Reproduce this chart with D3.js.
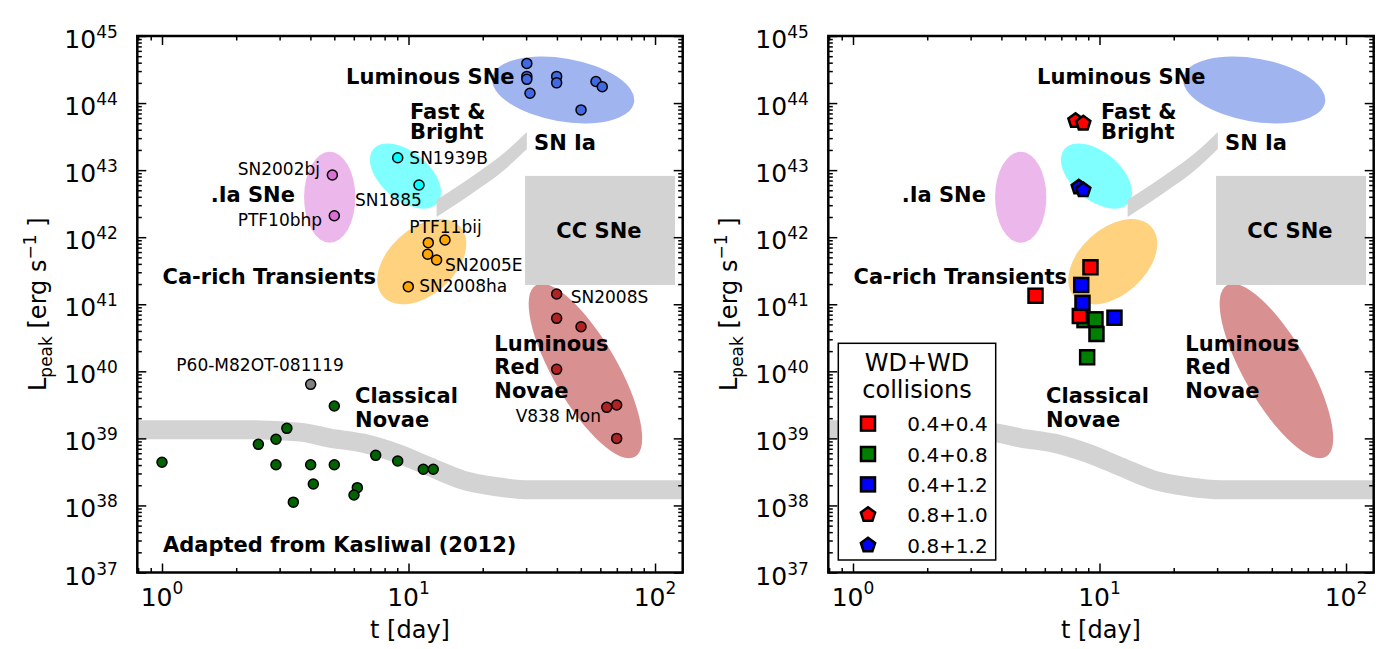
<!DOCTYPE html>
<meta charset="utf-8">
<script src="https://cdn.jsdelivr.net/npm/d3@7"></script>
<style>
  body { margin: 0; background: #fff; }
  text { font-family: "DejaVu Sans", sans-serif; }
</style>
<div id="chart"></div>
<script>
// ---- observed transients (left panel), t [day] and L_peak [erg/s]
var lumSNeT = [30.2, 30.2, 30.2, 31.1, 39.9, 39.9, 57.6, 61.1, 50.1];
var lumSNeL = [3.9e44, 2.5e44, 2.26e44, 1.4e44, 2.5e44, 2.0e44, 2.1e44, 1.75e44, 7.9e43];
var fastT = [9.04, 11.03];
var fastL = [1.53e43, 6.0e42];
var dotIaT = [4.91, 5.0];
var dotIaL = [8.45e42, 2.09e42];
var caT = [12.03, 14.06, 11.96, 13.0, 9.98];
var caL = [8.28e41, 9.08e41, 5.56e41, 4.57e41, 1.83e41];
var lrnT = [39.9, 39.9, 50.1, 39.9, 63.7, 69.9, 69.9];
var lrnL = [1.42e41, 6.17e40, 4.62e40, 1.07e40, 2.9e39, 3.14e39, 1.0e39];
var novaT = [1.0, 2.46, 2.90, 3.21, 2.90, 3.41, 4.01, 4.11, 5.0, 5.0, 6.2, 6.01, 7.36, 9.04, 11.48, 12.6];
var novaL = [4.4e38, 8.15e38, 9.7e38, 1.41e39, 4.05e38, 1.12e38, 4.05e38, 2.09e38, 3.04e39, 4.05e38, 1.84e38, 1.43e38, 5.58e38, 4.6e38, 3.46e38, 3.46e38];
var p60T = [4.01];
var p60L = [6.4e39];

// ---- class regions (ellipses): centre, semi axes in decades, tilt
var regionNames = ["Luminous SNe", "Fast & Bright", ".Ia SNe", "Ca-rich", "LRN"];
var regionT = [42.4, 9.72, 4.79, 11.32, 52.2];
var regionL = [1.57e44, 8.17e42, 3.94e42, 4.31e41, 1.01e40];
var regionDexT = [0.292, 0.170, 0.104, 0.211, 0.402];
var regionDexL = [0.470, 0.358, 0.678, 0.492, 0.477];
var regionTilt = [10, 40, 0, -42, 60];

// gray bands
var novaLimitT = [0.7, 2.07, 3.63, 4.8, 6.54, 8.96, 12.2, 16.6, 22.8, 31.1, 150];
var novaLimitL = [1.35e39, 1.35e39, 1.24e39, 1.01e39, 8.5e38, 6.0e38, 3.77e38, 2.39e38, 1.9e38, 1.71e38, 1.71e38];
var snIaT = [13.0, 16.0, 19.8, 24.4, 30.2];
var snIaL = [2.69e42, 4.4e42, 7.55e42, 1.34e43, 2.77e43];
var ccT = [29.7, 120.5];
var ccL = [1.94e41, 8.2e42];

// ---- WD+WD collision models (right panel)
var sq44T = [9.19, 5.50, 8.32];
var sq44L = [3.56e41, 1.34e41, 6.68e40];
var sq48T = [8.69, 9.63, 9.72, 8.91];
var sq48L = [5.8e40, 5.96e40, 3.6e40, 1.62e40];
var sq412T = [8.43, 8.53, 11.5];
var sq412L = [1.94e41, 1.05e41, 6.3e40];
var pent810T = [7.99, 8.59];
var pent810L = [5.46e43, 4.99e43];
var pent812T = [8.24, 8.59];
var pent812L = [5.55e42, 5.06e42];
var modelNames = ["0.4+0.4", "0.4+0.8", "0.4+1.2", "0.8+1.0", "0.8+1.2"];

// ---- labels
var classText = [["Luminous SNe"], ["Fast &", "Bright"], ["SN Ia"], ["CC SNe"], [".Ia SNe"], ["Ca-rich Transients"], ["Classical", "Novae"], ["Luminous", "Red", "Novae"]];
var classT = [5.58, 10.14, 32.3, 59.2, 3.46, 7.38, 6.07, 22.29];
var classL = [1.92e44, 5.78e43, 2.0e43, 9.62e41, 3.38e42, 2.0e41, 3.33e39, 2.03e40];
var classAnchor = ["start", "start", "start", "middle", "end", "end", "start", "start"];
var classLead = [0, 19.5, 0, 0, 0, 0, 23.8, 23.8];
var nameText = ["SN2002bj", "PTF10bhp", "SN1885", "SN1939B", "PTF11bij", "SN2005E", "SN2008ha", "SN2008S", "V838 Mon", "P60-M82OT-081119"];
var nameT = [4.375, 4.46, 6.07, 10.08, 10.08, 14.06, 11.06, 45.5, 27.2, 5.47];
var nameL = [8.45e42, 1.47e42, 2.94e42, 1.23e43, 1.17e42, 3.16e41, 1.5e41, 1.06e41, 1.77e39, 1.02e40];
var nameAnchor = ["end", "end", "start", "start", "start", "start", "start", "start", "start", "end"];

var xMajor = [1, 10, 100];
var xMinor = [0.8, 0.9, 2, 3, 4, 5, 6, 7, 8, 9, 20, 30, 40, 50, 60, 70, 80, 90];
var yMajor = [37, 38, 39, 40, 41, 42, 43, 44, 45];

// ---- layout
var panelW = 545.4, panelH = 536.5;
var panelLeft = [137.3, 828.3], panelTop = 36;

var svg = d3.select("#chart").append("svg")
    .attr("width", 1400)
    .attr("height", 649);

var x = d3.scaleLog().domain([0.794, 129.5]).range([0, panelW]);
var y = d3.scaleLog().domain([1e37, 1e45]).range([panelH, 0]);
var dexX = panelW / Math.log10(129.5 / 0.794);
var dexY = panelH / 8;

var regionColor = ["#4169e1", "#00ffff", "#da70d6", "#ffa500", "#b22222"];

// pentagon symbol, size = circumradius
var pentagon = {
    draw: function(ctx, r) {
        for (var k = 0; k < 5; k++) {
            var a = -Math.PI / 2 + k * 2 * Math.PI / 5;
            if (k == 0) ctx.moveTo(r * Math.cos(a), r * Math.sin(a));
            else ctx.lineTo(r * Math.cos(a), r * Math.sin(a));
        }
        ctx.closePath();
    }
};

function zip(ts, ls) {
    return ts.map(function(t, i) { return { t: t, L: ls[i] }; });
}

function background(g) {
    // ellipses
    g.selectAll("ellipse.region")
        .data(regionNames).enter().append("ellipse")
        .attr("class", "region")
        .attr("transform", (d, i) => "translate(" + x(regionT[i]) + "," + y(regionL[i]) + ") rotate(" + regionTilt[i] + ")")
        .attr("rx", (d, i) => regionDexT[i] * dexX)
        .attr("ry", (d, i) => regionDexL[i] * dexY)
        .attr("fill", (d, i) => regionColor[i])
        .attr("fill-opacity", 0.5);

    // CC SNe box
    g.append("rect")
        .attr("x", x(ccT[0]))
        .attr("y", y(ccL[1]))
        .attr("width", x(ccT[1]) - x(ccT[0]))
        .attr("height", y(ccL[0]) - y(ccL[1]))
        .attr("fill", "#d3d3d3");

    // SN Ia band
    var area = d3.area()
        .x(d => x(d.t))
        .y0(d => y(d.L / 1.34))
        .y1(d => y(d.L * 1.34))
        .curve(d3.curveMonotoneX);
    g.append("path")
        .datum(zip(snIaT, snIaL))
        .attr("d", area)
        .attr("fill", "#d3d3d3");

    // nova detection band
    var line = d3.line().x(d => x(d.t)).y(d => y(d.L)).curve(d3.curveMonotoneX);
    g.append("path")
        .datum(zip(novaLimitT, novaLimitL))
        .attr("d", line)
        .attr("fill", "none")
        .attr("stroke", "#d3d3d3")
        .attr("stroke-width", 19);
}

function classLabels(g) {
    var lab = g.selectAll("text.cls")
        .data(classText).enter().append("text")
        .attr("class", "cls")
        .attr("font-size", 21)
        .attr("font-weight", "bold")
        .attr("text-anchor", (d, i) => classAnchor[i])
        .attr("transform", (d, i) => "translate(" + x(classT[i]) + "," + y(classL[i]) + ")");
    lab.each(function(lines, i) {
        d3.select(this).selectAll("tspan")
            .data(lines).enter().append("tspan")
            .attr("x", 0)
            .attr("y", (d, j) => j * classLead[i])
            .text(d => d);
    });
}

function dots(g, ts, ls, color) {
    g.selectAll(null)
        .data(zip(ts, ls)).enter().append("circle")
        .attr("cx", d => x(d.t))
        .attr("cy", d => y(d.L))
        .attr("r", 5)
        .attr("fill", color)
        .attr("stroke", "#000")
        .attr("stroke-width", 1.5);
}

function squares(g, ts, ls, color) {
    g.selectAll(null)
        .data(zip(ts, ls)).enter().append("rect")
        .attr("x", d => x(d.t) - 7)
        .attr("y", d => y(d.L) - 7)
        .attr("width", 14)
        .attr("height", 14)
        .attr("fill", color)
        .attr("stroke", "#000")
        .attr("stroke-width", 2.5);
}

function pentagons(g, ts, ls, color) {
    g.selectAll(null)
        .data(zip(ts, ls)).enter().append("path")
        .attr("transform", d => "translate(" + x(d.t) + "," + y(d.L) + ")")
        .attr("d", d3.symbol().type(pentagon).size(7.5))
        .attr("fill", color)
        .attr("stroke", "#000")
        .attr("stroke-width", 2.5)
        .attr("stroke-linejoin", "miter");
}

function axes(g) {
    var yMinor = [];
    yMajor.slice(0, -1).forEach(function(e) {
        for (var m = 2; m < 10; m++) yMinor.push(m * Math.pow(10, e));
    });
    var yMajorV = yMajor.map(e => Math.pow(10, e));
    var sides = [
        [d3.axisBottom(x), "translate(0," + panelH + ")", xMajor, xMinor],
        [d3.axisTop(x), "translate(0,0)", xMajor, xMinor],
        [d3.axisLeft(y), "translate(0,0)", yMajorV, yMinor],
        [d3.axisRight(y), "translate(" + panelW + ",0)", yMajorV, yMinor]
    ];

    sides.forEach(function(s) {
        var ax = s[0];
        g.append("g").attr("transform", s[1])
            .call(ax.tickValues(s[2]).tickSize(-9).tickFormat(""));
        g.append("g").attr("transform", s[1])
            .call(ax.tickValues(s[3]).tickSize(-4.5).tickFormat(""));
    });
    g.selectAll(".domain").remove();
    g.selectAll(".tick line").attr("stroke-width", 1.5).attr("stroke", "#000");

    // tick labels 10^n
    var xl = g.selectAll("text.xlab")
        .data(xMajor).enter().append("text")
        .attr("class", "xlab")
        .attr("x", d => x(d))
        .attr("y", panelH + 33.5)
        .attr("text-anchor", "middle")
        .attr("font-size", 25);
    xl.append("tspan").text("10");
    xl.append("tspan").attr("dy", -12).attr("font-size", 17).text(d => Math.round(Math.log10(d)));

    var yl = g.selectAll("text.ylab")
        .data(yMajor).enter().append("text")
        .attr("class", "ylab")
        .attr("x", -19.5)
        .attr("y", d => y(Math.pow(10, d)) + 12)
        .attr("text-anchor", "end")
        .attr("font-size", 25);
    yl.append("tspan").text("10");
    yl.append("tspan").attr("dy", -10).attr("font-size", 17).text(d => d);

    // axis titles
    g.append("text")
        .attr("x", panelW / 2)
        .attr("y", 602)
        .attr("text-anchor", "middle")
        .attr("font-size", 24)
        .text("t [day]");

    var yt = g.append("text")
        .attr("transform", "translate(-91," + (panelH / 2) + ") rotate(-90)")
        .attr("text-anchor", "middle")
        .attr("font-size", 24);
    yt.append("tspan").text("L");
    yt.append("tspan").attr("dy", 6).attr("font-size", 17).text("peak");
    yt.append("tspan").attr("dy", -6).text(" [erg s");
    yt.append("tspan").attr("dy", -10).attr("font-size", 17).text("\u22121");
    yt.append("tspan").attr("dy", 10).text(" ]");

    g.append("rect")
        .attr("width", panelW)
        .attr("height", panelH)
        .attr("fill", "none")
        .attr("stroke", "#000")
        .attr("stroke-width", 2.5);
}

panelLeft.forEach(function(left, p) {
    var g = svg.append("g").attr("transform", "translate(" + left + "," + panelTop + ")");
    svg.append("clipPath").attr("id", "clip" + p)
        .append("rect").attr("width", panelW).attr("height", panelH);
    var inner = g.append("g").attr("clip-path", "url(#clip" + p + ")");

    background(inner);

    if (p == 0) {
        dots(inner, lumSNeT, lumSNeL, regionColor[0]);
        dots(inner, fastT, fastL, regionColor[1]);
        dots(inner, dotIaT, dotIaL, regionColor[2]);
        dots(inner, caT, caL, regionColor[3]);
        dots(inner, lrnT, lrnL, regionColor[4]);
        dots(inner, novaT, novaL, "#006400");
        dots(inner, p60T, p60L, "#808080");

        inner.selectAll("text.name")
            .data(nameText).enter().append("text")
            .attr("class", "name")
            .attr("x", (d, i) => x(nameT[i]))
            .attr("y", (d, i) => y(nameL[i]))
            .attr("text-anchor", (d, i) => nameAnchor[i])
            .attr("font-size", 17)
            .text(d => d);

        inner.append("text")
            .attr("x", x(1.01))
            .attr("y", y(2.04e37))
            .attr("font-size", 21)
            .attr("font-weight", "bold")
            .text("Adapted from Kasliwal (2012)");
    } else {
        squares(inner, sq48T, sq48L, "#008000");
        squares(inner, sq44T, sq44L, "#ff0000");
        squares(inner, sq412T, sq412L, "#0000ff");
        pentagons(inner, pent810T, pent810L, "#ff0000");
        pentagons(inner, pent812T, pent812L, "#0000ff");

        // legend
        var lx = 10, ly = 307.3, lw = 157.4, lh = 216.7;
        var lg = inner.append("g").attr("transform", "translate(" + lx + "," + ly + ")");
        lg.append("rect")
            .attr("width", lw).attr("height", lh)
            .attr("fill", "#fff").attr("stroke", "#000").attr("stroke-width", 1.5);
        lg.append("text").attr("x", lw / 2).attr("y", 28).attr("text-anchor", "middle")
            .attr("font-size", 24).text("WD+WD");
        lg.append("text").attr("x", lw / 2).attr("y", 55).attr("text-anchor", "middle")
            .attr("font-size", 24).text("collisions");
        var fills = ["#ff0000", "#008000", "#0000ff", "#ff0000", "#0000ff"];
        var item = lg.selectAll("g.item")
            .data(modelNames).enter().append("g")
            .attr("class", "item")
            .attr("transform", (d, i) => "translate(29.7," + (80.3 + i * 30.4) + ")");
        item.filter((d, i) => i < 3).append("rect")
            .attr("x", -7).attr("y", -7).attr("width", 14).attr("height", 14)
            .attr("fill", (d, i) => fills[i])
            .attr("stroke", "#000").attr("stroke-width", 2.5);
        item.filter((d, i) => i >= 3).append("path")
            .attr("d", d3.symbol().type(pentagon).size(7.5))
            .attr("fill", (d, i) => fills[i + 3])
            .attr("stroke", "#000").attr("stroke-width", 2.5);
        item.append("text")
            .attr("x", 39.3).attr("y", 7.5)
            .attr("font-size", 20)
            .text(d => d);
    }

    classLabels(inner);
    axes(g);
});
</script>
